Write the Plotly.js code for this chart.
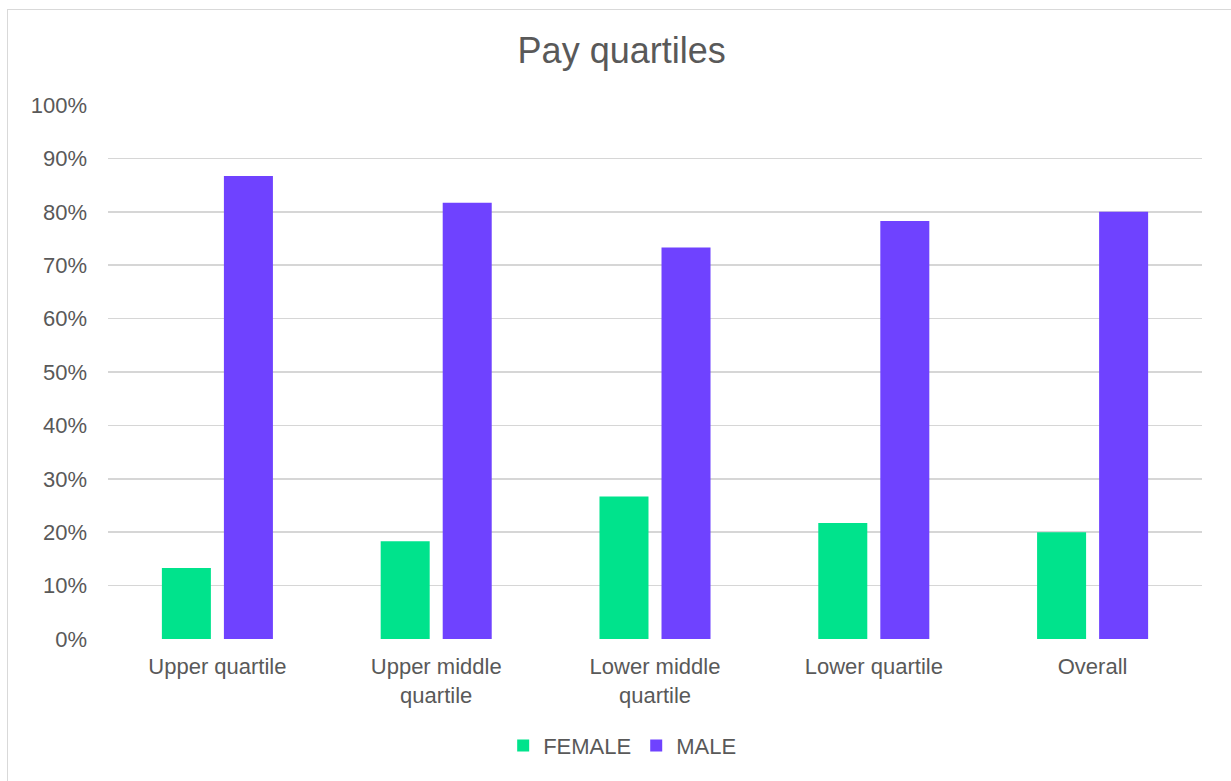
<!DOCTYPE html>
<html>
<head>
<meta charset="utf-8">
<script src="https://cdn.plot.ly/plotly-3.0.1.min.js"></script>
<style>
  html, body { margin: 0; padding: 0; background: #ffffff; overflow: hidden; }
  #chart { position: absolute; left: 0; top: 0; width: 1231px; height: 781px; }
  #frame { position: absolute; left: 7px; top: 9px; width: 1300px; height: 900px;
           border: 1px solid #d9d9d9; pointer-events: none; box-sizing: border-box; }
</style>
</head>
<body>
<div id="chart"></div>
<div id="frame"></div>
<script>
const categories = ["Upper quartile", "Upper middle<br>quartile", "Lower middle<br>quartile", "Lower quartile", "Overall"];
const female = [0.133, 0.183, 0.267, 0.217, 0.200];
const male = [0.867, 0.817, 0.733, 0.783, 0.800];
const yTickValues = [0, 0.1, 0.2, 0.3, 0.4, 0.5, 0.6, 0.7, 0.8, 0.9, 1.0];
const yTickLabels = ["0%", "10%", "20%", "30%", "40%", "50%", "60%", "70%", "80%", "90%", "100%"];

const textColor = "#595959";
const font = "Liberation Sans, Arial, sans-serif";

const traces = [
  { type: "bar", name: "FEMALE", x: categories, y: female,
    marker: { color: "#00E38C" }, hoverinfo: "y" },
  { type: "bar", name: "MALE", x: categories, y: male,
    marker: { color: "#6F42FF" }, hoverinfo: "y" }
];

const layout = {
  width: 1231, height: 781,
  paper_bgcolor: "rgba(0,0,0,0)", plot_bgcolor: "#ffffff",
  margin: { l: 108, r: 29, t: 105, b: 142 },
  font: { family: font, color: textColor, size: 22 },
  title: { text: "Pay quartiles", font: { family: font, size: 36, color: textColor },
           x: 0.505, xanchor: "center", xref: "container",
           y: 1 - 50 / 781, yanchor: "middle", yref: "container" },
  barmode: "group", bargap: 0.433, bargroupgap: 0.21,
  xaxis: { type: "category", showgrid: false, zeroline: false, showline: false,
           ticks: "", ticklabelstandoff: 12, tickfont: { size: 22, color: textColor } },
  yaxis: { range: [0, 1.0], tickvals: yTickValues, ticktext: yTickLabels,
           showgrid: true, gridcolor: "#d6d6d6", gridwidth: 1.6,
           zeroline: false, showline: false, ticks: "", ticklabelstandoff: 20,
           tickfont: { size: 22, color: textColor } },
  showlegend: true,
  legend: { orientation: "h", x: 0.47, xanchor: "center", y: -0.2, yanchor: "middle",
            font: { size: 22, color: textColor }, itemwidth: 30, tracegroupgap: 0 }
};

Plotly.newPlot("chart", traces, layout, { displayModeBar: false, staticPlot: true });
</script>
</body>
</html>
